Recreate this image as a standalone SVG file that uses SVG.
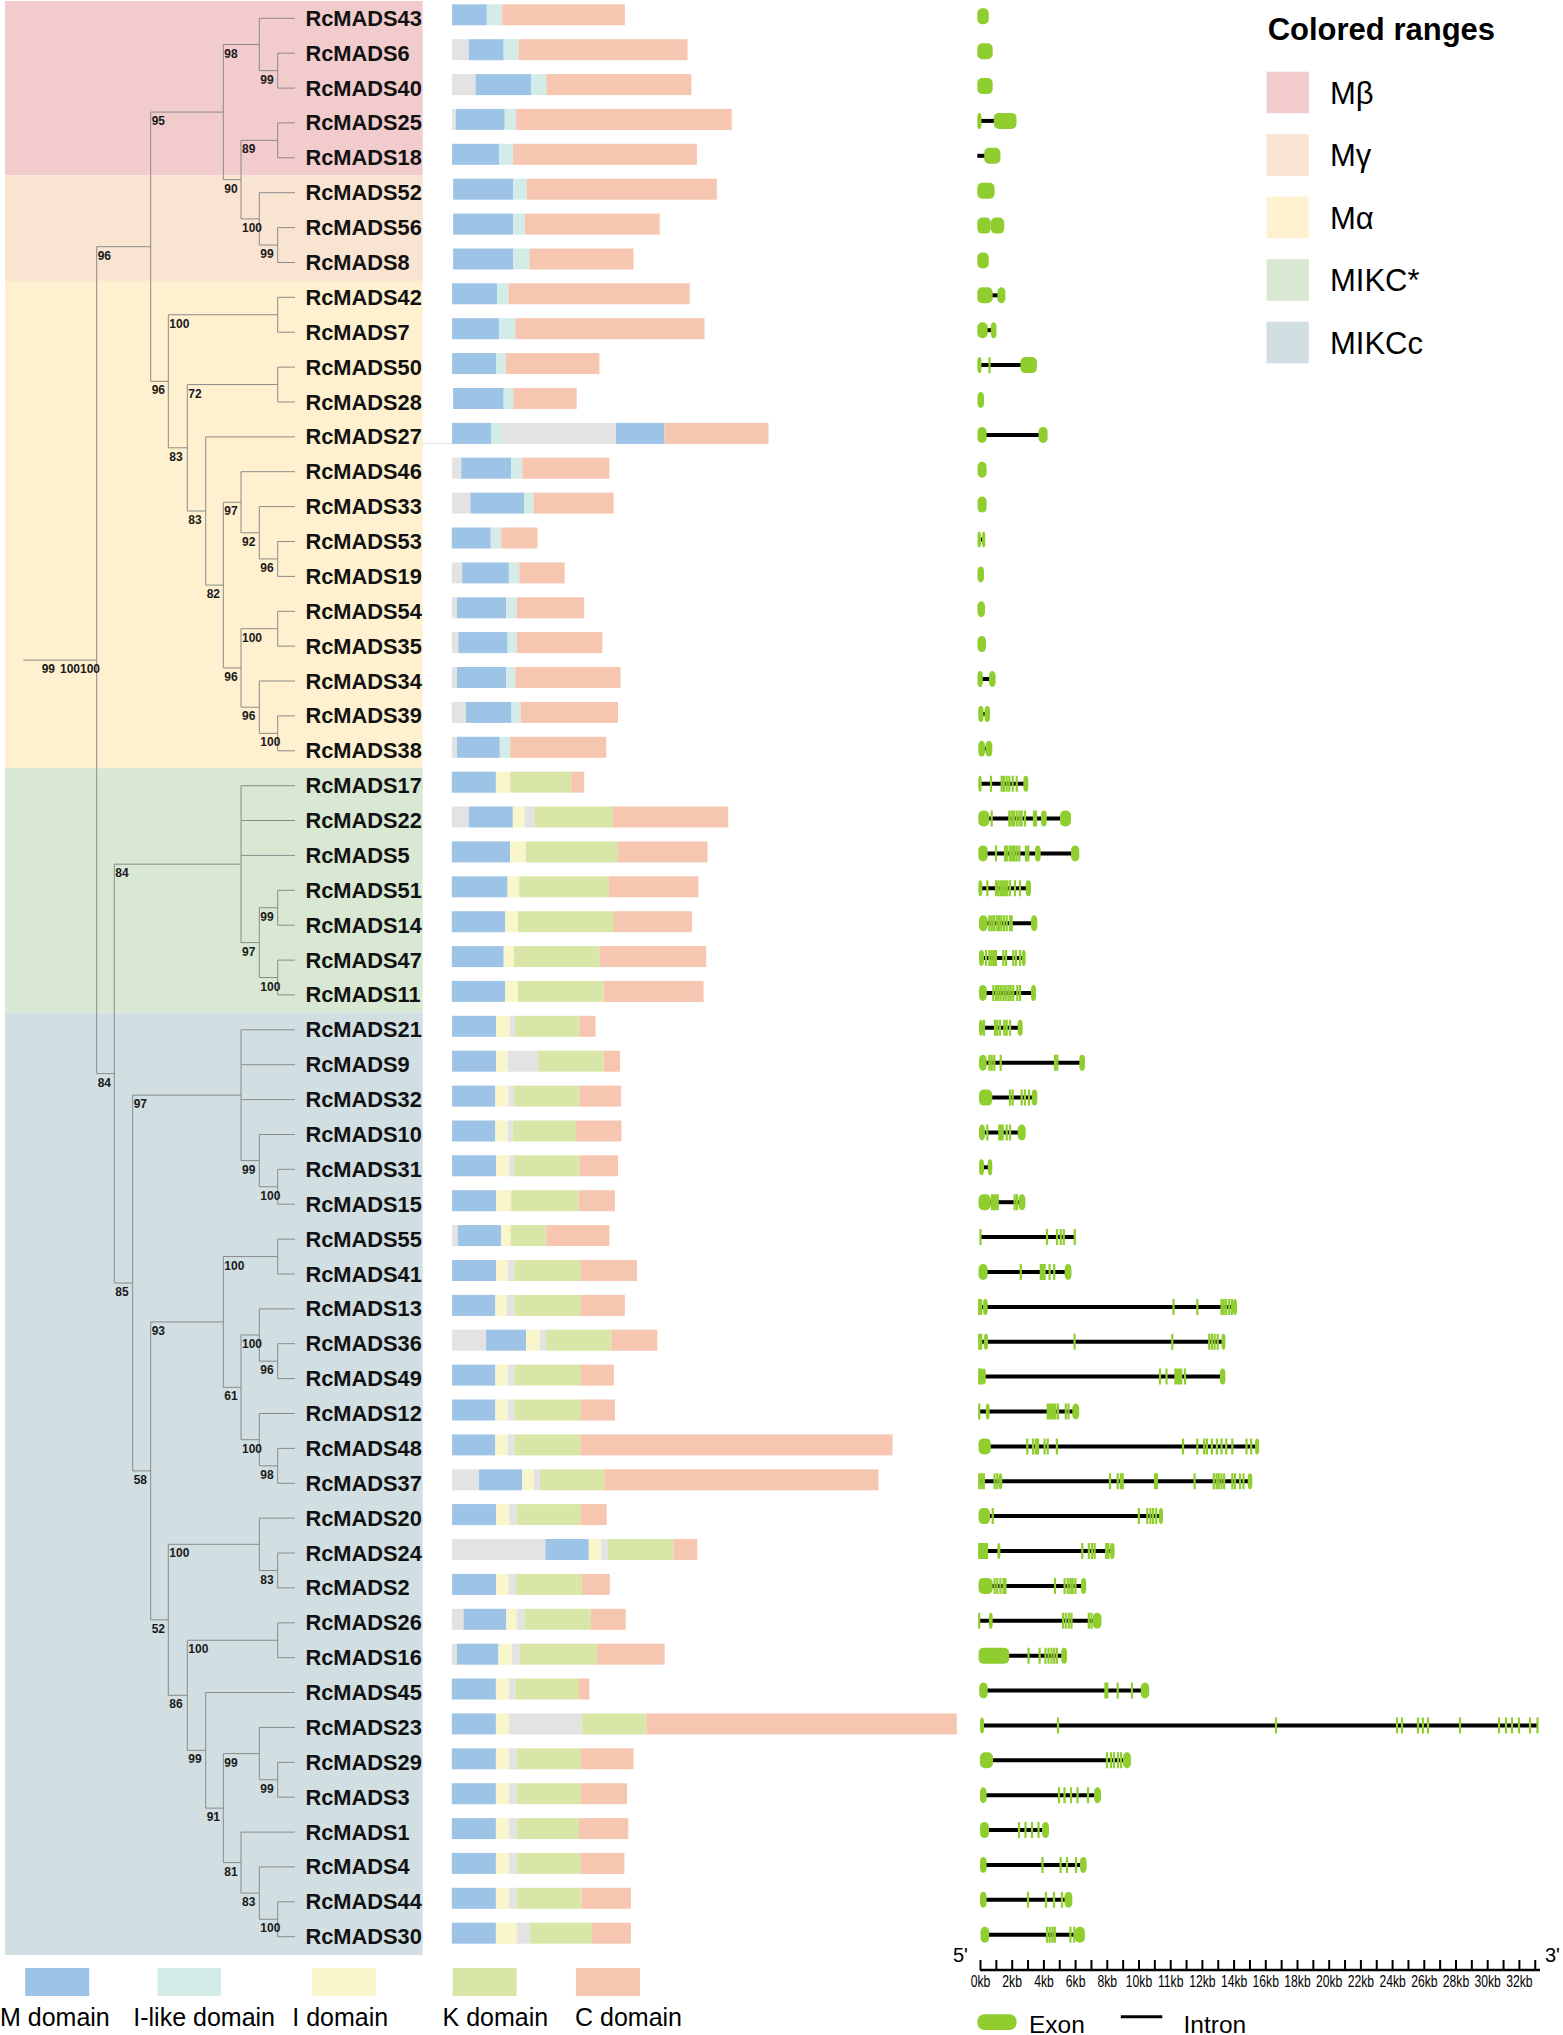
<svg xmlns="http://www.w3.org/2000/svg" width="1563" height="2035" viewBox="0 0 1563 2035">
<style>
.t{font:bold 21.8px "Liberation Sans",Arial,sans-serif;fill:#111}
.b{font:bold 12px "Liberation Sans",Arial,sans-serif;fill:#1a1a1a}
.lg{font:31px "Liberation Sans",Arial,sans-serif;fill:#000}
.lt{font:bold 31px "Liberation Sans",Arial,sans-serif;fill:#000}
.dl{font:25px "Liberation Sans",Arial,sans-serif;fill:#000}
.ax{font:16px "Liberation Sans",Arial,sans-serif;fill:#000;text-anchor:middle}
.br{fill:none;stroke:#8a8a8a;stroke-width:1}
.g{fill:#e3e3e3}.m{fill:#9dc3e6}.l{fill:#d3ece8}.i{fill:#faf6cb}.k{fill:#d8e7a7}.c{fill:#f7c6b1}
.in{stroke:#000;stroke-width:4;fill:none}
.ex{fill:#90ce30}
.tx{stroke:#90ce30;stroke-width:2.2;fill:none}
</style>
<g id="ranges">
<rect x="5" y="1" width="417.7" height="174.3" fill="#f2cbcd"/>
<rect x="5" y="175.3" width="417.7" height="105.6" fill="#f9e3d1"/>
<rect x="5" y="280.9" width="417.7" height="487.3" fill="#fff1cf"/>
<rect x="5" y="768.2" width="417.7" height="244.2" fill="#d9e8d3"/>
<rect x="5" y="1012.4" width="417.7" height="942.6" fill="#d1dfe2"/>
</g>
<g id="connectors">
<path class="br" d="M23.3 660.15H96.7M96.7 246.7V1073.6
M96.7 246.7H150.7M150.7 112.05V381.3
M150.7 112.05H223.3M223.3 44.5V179.6
M223.3 44.5H259.3M259.3 18.3V70.65M259.3 18.3H295
M259.3 70.65H277.7M277.7 53.2V88.1M277.7 53.2H295M277.7 88.1H295
M223.3 179.6H241M241 140.35V218.9
M241 140.35H277.7M277.7 122.9V157.8M277.7 122.9H295M277.7 157.8H295
M241 218.9H259.3M259.3 192.7V245.05M259.3 192.7H295
M259.3 245.05H277.7M277.7 227.6V262.5M277.7 227.6H295M277.7 262.5H295
M150.7 381.3H168.3M168.3 314.75V447.8
M168.3 314.75H277.7M277.7 297.3V332.2M277.7 297.3H295M277.7 332.2H295
M168.3 447.8H187.3M187.3 384.55V511
M187.3 384.55H277.7M277.7 367.1V402M277.7 367.1H295M277.7 402H295
M187.3 511H205.7M205.7 436.9V585.1M205.7 436.9H295
M205.7 585.1H223.3M223.3 502.25V667.95
M223.3 502.25H241M241 471.7V532.8M241 471.7H295
M241 532.8H259.3M259.3 506.6V558.95M259.3 506.6H295
M259.3 558.95H277.7M277.7 541.5V576.4M277.7 541.5H295M277.7 576.4H295
M223.3 667.95H241M241 628.7V707.2
M241 628.7H277.7M277.7 611.3V646.1M277.7 611.3H295M277.7 646.1H295
M241 707.2H259.3M259.3 681V733.35M259.3 681H295
M259.3 733.35H277.7M277.7 715.9V750.8M277.7 715.9H295M277.7 750.8H295
M96.7 1073.6H114.3M114.3 864.15V1283.05
M114.3 864.15H241M241 785.7V942.6M241 785.7H295M241 820.5H295M241 855.4H295
M241 942.6H259.3M259.3 907.75V977.5
M259.3 907.75H277.7M277.7 890.3V925.2M277.7 890.3H295M277.7 925.2H295
M259.3 977.5H277.7M277.7 960.1V994.9M277.7 960.1H295M277.7 994.9H295
M114.3 1283.05H132.7M132.7 1095.2V1470.9
M132.7 1095.2H241M241 1029.8V1160.6M241 1029.8H295M241 1064.7H295M241 1099.6H295
M241 1160.6H259.3M259.3 1134.5V1186.75M259.3 1134.5H295
M259.3 1186.75H277.7M277.7 1169.3V1204.2M277.7 1169.3H295M277.7 1204.2H295
M132.7 1470.9H150.7M150.7 1321.95V1619.8
M150.7 1321.95H223.3M223.3 1256.55V1387.35
M223.3 1256.55H277.7M277.7 1239.1V1274M277.7 1239.1H295M277.7 1274H295
M223.3 1387.35H241M241 1335V1439.7
M241 1335H259.3M259.3 1308.9V1361.15M259.3 1308.9H295
M259.3 1361.15H277.7M277.7 1343.7V1378.6M277.7 1343.7H295M277.7 1378.6H295
M241 1439.7H259.3M259.3 1413.5V1465.85M259.3 1413.5H295
M259.3 1465.85H277.7M277.7 1448.4V1483.3M277.7 1448.4H295M277.7 1483.3H295
M150.7 1619.8H168.3M168.3 1544.3V1695.3
M168.3 1544.3H259.3M259.3 1518.1V1570.45M259.3 1518.1H295
M259.3 1570.45H277.7M277.7 1553V1587.9M277.7 1553H295M277.7 1587.9H295
M168.3 1695.3H187.3M187.3 1640.25V1750.3
M187.3 1640.25H277.7M277.7 1622.8V1657.7M277.7 1622.8H295M277.7 1657.7H295
M187.3 1750.3H205.7M205.7 1692.5V1808.1M205.7 1692.5H295
M205.7 1808.1H223.3M223.3 1753.6V1862.6
M223.3 1753.6H259.3M259.3 1727.4V1779.75M259.3 1727.4H295
M259.3 1779.75H277.7M277.7 1762.3V1797.2M277.7 1762.3H295M277.7 1797.2H295
M223.3 1862.6H241M241 1832.1V1893.1M241 1832.1H295
M241 1893.1H259.3M259.3 1866.9V1919.25M259.3 1866.9H295
M259.3 1919.25H277.7M277.7 1901.8V1936.7M277.7 1901.8H295M277.7 1936.7H295"/>
<path d="M422 443.5H452" stroke="#e4e4e4" stroke-width="1"/>
</g>
<g id="bootstrap">
<text class="b" x="224.3" y="57.5">98</text>
<text class="b" x="260.3" y="83.7">99</text>
<text class="b" x="151.7" y="125.1">95</text>
<text class="b" x="224.3" y="192.6">90</text>
<text class="b" x="242" y="153.4">89</text>
<text class="b" x="242" y="231.9">100</text>
<text class="b" x="260.3" y="258.1">99</text>
<text class="b" x="97.7" y="259.7">96</text>
<text class="b" x="151.7" y="394.3">96</text>
<text class="b" x="169.3" y="327.8">100</text>
<text class="b" x="169.3" y="460.8">83</text>
<text class="b" x="188.3" y="397.6">72</text>
<text class="b" x="188.3" y="524">83</text>
<text class="b" x="206.7" y="598.1">82</text>
<text class="b" x="224.3" y="515.3">97</text>
<text class="b" x="242" y="545.8">92</text>
<text class="b" x="260.3" y="572">96</text>
<text class="b" x="224.3" y="681">96</text>
<text class="b" x="242" y="641.7">100</text>
<text class="b" x="242" y="720.2">96</text>
<text class="b" x="260.3" y="746.4">100</text>
<text class="b" x="41.7" y="673">99</text>
<text class="b" x="60" y="673">100</text>
<text class="b" x="80" y="673">100</text>
<text class="b" x="97.7" y="1086.6">84</text>
<text class="b" x="115.3" y="877.2">84</text>
<text class="b" x="242" y="955.6">97</text>
<text class="b" x="260.3" y="920.8">99</text>
<text class="b" x="260.3" y="990.5">100</text>
<text class="b" x="115.3" y="1296.1">85</text>
<text class="b" x="133.7" y="1108.2">97</text>
<text class="b" x="242" y="1173.6">99</text>
<text class="b" x="260.3" y="1199.8">100</text>
<text class="b" x="133.7" y="1483.9">58</text>
<text class="b" x="151.7" y="1335">93</text>
<text class="b" x="224.3" y="1269.6">100</text>
<text class="b" x="224.3" y="1400.4">61</text>
<text class="b" x="242" y="1348">100</text>
<text class="b" x="260.3" y="1374.2">96</text>
<text class="b" x="242" y="1452.7">100</text>
<text class="b" x="260.3" y="1478.9">98</text>
<text class="b" x="151.7" y="1632.8">52</text>
<text class="b" x="169.3" y="1557.3">100</text>
<text class="b" x="260.3" y="1583.5">83</text>
<text class="b" x="169.3" y="1708.3">86</text>
<text class="b" x="188.3" y="1653.3">100</text>
<text class="b" x="188.3" y="1763.3">99</text>
<text class="b" x="206.7" y="1821.1">91</text>
<text class="b" x="224.3" y="1766.6">99</text>
<text class="b" x="260.3" y="1792.8">99</text>
<text class="b" x="224.3" y="1875.6">81</text>
<text class="b" x="242" y="1906.1">83</text>
<text class="b" x="260.3" y="1932.3">100</text>
</g>
<g id="RcMADS43" transform="translate(0,18.3)"><text class="t" x="305.5" y="7.5">RcMADS43</text>
<rect class="m" x="452.1" y="-14" width="34.7" height="21"/><rect class="l" x="486.8" y="-14" width="15.5" height="21"/><rect class="c" x="502.3" y="-14" width="122.6" height="21"/>
<rect class="ex" x="977.3" y="-10" width="11.5" height="16" rx="5"/></g>
<g id="RcMADS6" transform="translate(0,53.2)"><text class="t" x="305.5" y="7.5">RcMADS6</text>
<rect class="g" x="452.1" y="-14" width="16.8" height="21"/><rect class="m" x="468.9" y="-14" width="34.8" height="21"/><rect class="l" x="503.7" y="-14" width="14.8" height="21"/><rect class="c" x="518.5" y="-14" width="169.1" height="21"/>
<rect class="ex" x="977.3" y="-10" width="15.4" height="16" rx="5"/></g>
<g id="RcMADS40" transform="translate(0,88.1)"><text class="t" x="305.5" y="7.5">RcMADS40</text>
<rect class="g" x="452.1" y="-14" width="23.4" height="21"/><rect class="m" x="475.5" y="-14" width="55.8" height="21"/><rect class="l" x="531.3" y="-14" width="15.1" height="21"/><rect class="c" x="546.4" y="-14" width="145" height="21"/>
<rect class="ex" x="977.3" y="-10" width="15.4" height="16" rx="5"/></g>
<g id="RcMADS25" transform="translate(0,122.9)"><text class="t" x="305.5" y="7.5">RcMADS25</text>
<rect class="g" x="452.1" y="-14" width="3.7" height="21"/><rect class="m" x="455.8" y="-14" width="48.9" height="21"/><rect class="l" x="504.7" y="-14" width="11.4" height="21"/><rect class="c" x="516.1" y="-14" width="215.6" height="21"/>
<path class="in" d="M980-2H995"/><rect class="ex" x="977.3" y="-10" width="4.2" height="16" rx="5"/><rect class="ex" x="993.8" y="-10" width="22.7" height="16" rx="5"/></g>
<g id="RcMADS18" transform="translate(0,157.8)"><text class="t" x="305.5" y="7.5">RcMADS18</text>
<rect class="m" x="452.1" y="-14" width="47.1" height="21"/><rect class="l" x="499.2" y="-14" width="13.8" height="21"/><rect class="c" x="513" y="-14" width="183.9" height="21"/>
<path class="in" d="M977.3-2H986"/><rect class="ex" x="984.2" y="-10" width="16.2" height="16" rx="5"/></g>
<g id="RcMADS52" transform="translate(0,192.7)"><text class="t" x="305.5" y="7.5">RcMADS52</text>
<rect class="m" x="453.1" y="-14" width="60.2" height="21"/><rect class="l" x="513.3" y="-14" width="13.5" height="21"/><rect class="c" x="526.8" y="-14" width="190.1" height="21"/>
<rect class="ex" x="977.3" y="-10" width="17.3" height="16" rx="5"/></g>
<g id="RcMADS56" transform="translate(0,227.6)"><text class="t" x="305.5" y="7.5">RcMADS56</text>
<rect class="m" x="453.1" y="-14" width="60.2" height="21"/><rect class="l" x="513.3" y="-14" width="11.7" height="21"/><rect class="c" x="525" y="-14" width="134.7" height="21"/>
<rect class="ex" x="977.3" y="-10" width="13.5" height="16" rx="5"/><rect class="ex" x="990.8" y="-10" width="13.4" height="16" rx="5"/></g>
<g id="RcMADS8" transform="translate(0,262.5)"><text class="t" x="305.5" y="7.5">RcMADS8</text>
<rect class="m" x="453.1" y="-14" width="60.2" height="21"/><rect class="l" x="513.3" y="-14" width="16.2" height="21"/><rect class="c" x="529.5" y="-14" width="104" height="21"/>
<rect class="ex" x="977.3" y="-10" width="11.5" height="16" rx="5"/></g>
<g id="RcMADS42" transform="translate(0,297.3)"><text class="t" x="305.5" y="7.5">RcMADS42</text>
<rect class="m" x="452.1" y="-14" width="45.1" height="21"/><rect class="l" x="497.2" y="-14" width="11.3" height="21"/><rect class="c" x="508.5" y="-14" width="181.2" height="21"/>
<path class="in" d="M990-2H999"/><rect class="ex" x="977.3" y="-10" width="15.4" height="16" rx="5"/><rect class="ex" x="997.3" y="-10" width="8.1" height="16" rx="5"/></g>
<g id="RcMADS7" transform="translate(0,332.2)"><text class="t" x="305.5" y="7.5">RcMADS7</text>
<rect class="m" x="452.1" y="-14" width="47.1" height="21"/><rect class="l" x="499.2" y="-14" width="16.2" height="21"/><rect class="c" x="515.4" y="-14" width="189.1" height="21"/>
<path class="in" d="M986-2H992"/><rect class="ex" x="977.3" y="-10" width="10.4" height="16" rx="5"/><rect class="ex" x="990.8" y="-10" width="5.7" height="16" rx="5"/></g>
<g id="RcMADS50" transform="translate(0,367.1)"><text class="t" x="305.5" y="7.5">RcMADS50</text>
<rect class="m" x="452.1" y="-14" width="44" height="21"/><rect class="l" x="496.1" y="-14" width="9.7" height="21"/><rect class="c" x="505.8" y="-14" width="93.6" height="21"/>
<path class="in" d="M980-2H1022"/><path class="tx" d="M989.5-10v16"/><rect class="ex" x="977.3" y="-10" width="4.2" height="16" rx="5"/><rect class="ex" x="1020.4" y="-10" width="16.5" height="16" rx="5"/></g>
<g id="RcMADS28" transform="translate(0,402)"><text class="t" x="305.5" y="7.5">RcMADS28</text>
<rect class="m" x="453.1" y="-14" width="50.6" height="21"/><rect class="l" x="503.7" y="-14" width="9.6" height="21"/><rect class="c" x="513.3" y="-14" width="63.4" height="21"/>
<rect class="ex" x="977.5" y="-10" width="6.5" height="16" rx="5"/></g>
<g id="RcMADS27" transform="translate(0,436.9)"><text class="t" x="305.5" y="7.5">RcMADS27</text>
<rect class="m" x="452.1" y="-14" width="38.9" height="21"/><rect class="l" x="491" y="-14" width="10.3" height="21"/><rect class="g" x="501.3" y="-14" width="114.7" height="21"/><rect class="m" x="616" y="-14" width="48.5" height="21"/><rect class="c" x="664.5" y="-14" width="104" height="21"/>
<path class="in" d="M985-2H1040"/><rect class="ex" x="977.5" y="-10" width="9.1" height="16" rx="5"/><rect class="ex" x="1038.5" y="-10" width="9.1" height="16" rx="5"/></g>
<g id="RcMADS46" transform="translate(0,471.7)"><text class="t" x="305.5" y="7.5">RcMADS46</text>
<rect class="g" x="452.1" y="-14" width="9.2" height="21"/><rect class="m" x="461.3" y="-14" width="50" height="21"/><rect class="l" x="511.3" y="-14" width="11" height="21"/><rect class="c" x="522.3" y="-14" width="87.1" height="21"/>
<rect class="ex" x="977.5" y="-10" width="9.1" height="16" rx="5"/></g>
<g id="RcMADS33" transform="translate(0,506.6)"><text class="t" x="305.5" y="7.5">RcMADS33</text>
<rect class="g" x="452.1" y="-14" width="18.2" height="21"/><rect class="m" x="470.3" y="-14" width="53.7" height="21"/><rect class="l" x="524" y="-14" width="9.7" height="21"/><rect class="c" x="533.7" y="-14" width="79.9" height="21"/>
<rect class="ex" x="977.5" y="-10" width="9.1" height="16" rx="5"/></g>
<g id="RcMADS53" transform="translate(0,541.5)"><text class="t" x="305.5" y="7.5">RcMADS53</text>
<rect class="m" x="451.8" y="-14" width="38.9" height="21"/><rect class="l" x="490.7" y="-14" width="10.4" height="21"/><rect class="c" x="501.1" y="-14" width="36.4" height="21"/>
<path class="in" d="M979-2H984"/><rect class="ex" x="977.5" y="-10" width="3.5" height="16" rx="5"/><rect class="ex" x="982" y="-10" width="3.3" height="16" rx="5"/></g>
<g id="RcMADS19" transform="translate(0,576.4)"><text class="t" x="305.5" y="7.5">RcMADS19</text>
<rect class="g" x="451.8" y="-14" width="10.4" height="21"/><rect class="m" x="462.2" y="-14" width="46.7" height="21"/><rect class="l" x="508.9" y="-14" width="10.4" height="21"/><rect class="c" x="519.3" y="-14" width="45.4" height="21"/>
<rect class="ex" x="977.5" y="-10" width="6.5" height="16" rx="5"/></g>
<g id="RcMADS54" transform="translate(0,611.3)"><text class="t" x="305.5" y="7.5">RcMADS54</text>
<rect class="g" x="451.8" y="-14" width="5.2" height="21"/><rect class="m" x="457" y="-14" width="49.3" height="21"/><rect class="l" x="506.3" y="-14" width="10.4" height="21"/><rect class="c" x="516.7" y="-14" width="67.5" height="21"/>
<rect class="ex" x="977.5" y="-10" width="7.5" height="16" rx="5"/></g>
<g id="RcMADS35" transform="translate(0,646.1)"><text class="t" x="305.5" y="7.5">RcMADS35</text>
<rect class="g" x="451.8" y="-14" width="6.5" height="21"/><rect class="m" x="458.3" y="-14" width="49.3" height="21"/><rect class="l" x="507.6" y="-14" width="9.1" height="21"/><rect class="c" x="516.7" y="-14" width="85.7" height="21"/>
<rect class="ex" x="977.5" y="-10" width="8.5" height="16" rx="5"/></g>
<g id="RcMADS34" transform="translate(0,681)"><text class="t" x="305.5" y="7.5">RcMADS34</text>
<rect class="g" x="451.8" y="-14" width="5.2" height="21"/><rect class="m" x="457" y="-14" width="49.3" height="21"/><rect class="l" x="506.3" y="-14" width="9.1" height="21"/><rect class="c" x="515.4" y="-14" width="105.1" height="21"/>
<path class="in" d="M981-2H991"/><rect class="ex" x="977.5" y="-10" width="5.2" height="16" rx="5"/><rect class="ex" x="989" y="-10" width="6.6" height="16" rx="5"/></g>
<g id="RcMADS39" transform="translate(0,715.9)"><text class="t" x="305.5" y="7.5">RcMADS39</text>
<rect class="g" x="451.8" y="-14" width="14.2" height="21"/><rect class="m" x="466" y="-14" width="45.5" height="21"/><rect class="l" x="511.5" y="-14" width="9.1" height="21"/><rect class="c" x="520.6" y="-14" width="97.4" height="21"/>
<path class="in" d="M982-2H986"/><rect class="ex" x="978.3" y="-10" width="5.2" height="16" rx="5"/><rect class="ex" x="984.5" y="-10" width="5.5" height="16" rx="5"/></g>
<g id="RcMADS38" transform="translate(0,750.8)"><text class="t" x="305.5" y="7.5">RcMADS38</text>
<rect class="g" x="451.8" y="-14" width="5.2" height="21"/><rect class="m" x="457" y="-14" width="42.8" height="21"/><rect class="l" x="499.8" y="-14" width="10.4" height="21"/><rect class="c" x="510.2" y="-14" width="96.1" height="21"/>
<path class="in" d="M983-2H987"/><rect class="ex" x="978.3" y="-10" width="6.7" height="16" rx="5"/><rect class="ex" x="985.5" y="-10" width="6.8" height="16" rx="5"/></g>
<g id="RcMADS17" transform="translate(0,785.7)"><text class="t" x="305.5" y="7.5">RcMADS17</text>
<rect class="m" x="451.8" y="-14" width="44.1" height="21"/><rect class="i" x="495.9" y="-14" width="14.3" height="21"/><rect class="k" x="510.2" y="-14" width="61" height="21"/><rect class="c" x="571.2" y="-14" width="13" height="21"/>
<path class="in" d="M980-2H1024"/><path class="tx" d="M991-10v16M1001.7-10v16M1004-10v16M1006.7-10v16M1009.3-10v16M1012.7-10v16M1016.7-10v16"/><rect class="ex" x="978.3" y="-10" width="3.4" height="16" rx="5"/><rect class="ex" x="1023.3" y="-10" width="5" height="16" rx="5"/></g>
<g id="RcMADS22" transform="translate(0,820.5)"><text class="t" x="305.5" y="7.5">RcMADS22</text>
<rect class="g" x="451.8" y="-14" width="16.9" height="21"/><rect class="m" x="468.7" y="-14" width="44.1" height="21"/><rect class="i" x="512.8" y="-14" width="11.7" height="21"/><rect class="g" x="524.5" y="-14" width="10.4" height="21"/><rect class="k" x="534.9" y="-14" width="77.9" height="21"/><rect class="c" x="612.8" y="-14" width="115.5" height="21"/>
<path class="in" d="M985-2H1065"/><path class="tx" d="M991.7-10v16M1009.3-10v16M1011.7-10v16M1014-10v16M1016.7-10v16M1019.3-10v16M1021.7-10v16M1025-10v16M1034-10v16M1036-10v16"/><rect class="ex" x="978.3" y="-10" width="11" height="16" rx="5"/><rect class="ex" x="1041" y="-10" width="5.7" height="16" rx="5"/><rect class="ex" x="1060" y="-10" width="11" height="16" rx="5"/></g>
<g id="RcMADS5" transform="translate(0,855.4)"><text class="t" x="305.5" y="7.5">RcMADS5</text>
<rect class="m" x="451.8" y="-14" width="58.4" height="21"/><rect class="i" x="510.2" y="-14" width="15.6" height="21"/><rect class="k" x="525.8" y="-14" width="92.2" height="21"/><rect class="c" x="618" y="-14" width="89.5" height="21"/>
<path class="in" d="M985-2H1075"/><path class="tx" d="M996-10v16M1005-10v16M1007.3-10v16M1010-10v16M1012.3-10v16M1014.3-10v16M1016.7-10v16M1019.3-10v16M1026-10v16M1028.3-10v16"/><rect class="ex" x="978.3" y="-10" width="9.4" height="16" rx="5"/><rect class="ex" x="1035" y="-10" width="5.7" height="16" rx="5"/><rect class="ex" x="1071" y="-10" width="8.3" height="16" rx="5"/></g>
<g id="RcMADS51" transform="translate(0,890.3)"><text class="t" x="305.5" y="7.5">RcMADS51</text>
<rect class="m" x="451.8" y="-14" width="55.8" height="21"/><rect class="i" x="507.6" y="-14" width="11.7" height="21"/><rect class="k" x="519.3" y="-14" width="89.6" height="21"/><rect class="c" x="608.9" y="-14" width="89.5" height="21"/>
<path class="in" d="M980-2H1028"/><path class="tx" d="M987.3-10v16M996-10v16M998.3-10v16M1000.7-10v16M1002.7-10v16M1005-10v16M1007.3-10v16M1010-10v16M1015-10v16M1020-10v16"/><rect class="ex" x="978.3" y="-10" width="4" height="16" rx="5"/><rect class="ex" x="1025.7" y="-10" width="5.3" height="16" rx="5"/></g>
<g id="RcMADS14" transform="translate(0,925.2)"><text class="t" x="305.5" y="7.5">RcMADS14</text>
<rect class="m" x="451.8" y="-14" width="53.2" height="21"/><rect class="i" x="505" y="-14" width="13" height="21"/><rect class="k" x="518" y="-14" width="96" height="21"/><rect class="c" x="614" y="-14" width="77.9" height="21"/>
<path class="in" d="M985-2H1033"/><path class="tx" d="M989.3-10v16M991.7-10v16M994-10v16M996.7-10v16M999-10v16M1001.3-10v16M1004-10v16M1006.7-10v16M1010-10v16M1011.7-10v16"/><rect class="ex" x="979" y="-10" width="8.7" height="16" rx="5"/><rect class="ex" x="1031" y="-10" width="6.3" height="16" rx="5"/></g>
<g id="RcMADS47" transform="translate(0,960.1)"><text class="t" x="305.5" y="7.5">RcMADS47</text>
<rect class="m" x="451.8" y="-14" width="51.9" height="21"/><rect class="i" x="503.7" y="-14" width="10.4" height="21"/><rect class="k" x="514.1" y="-14" width="85.7" height="21"/><rect class="c" x="599.8" y="-14" width="106.4" height="21"/>
<path class="in" d="M982-2H1023"/><path class="tx" d="M986-10v16M989.3-10v16M991.7-10v16M994-10v16M996-10v16M1003.3-10v16M1006-10v16M1013.3-10v16M1016-10v16M1020-10v16"/><rect class="ex" x="979" y="-10" width="5" height="16" rx="5"/><rect class="ex" x="1021.7" y="-10" width="4" height="16" rx="5"/></g>
<g id="RcMADS11" transform="translate(0,994.9)"><text class="t" x="305.5" y="7.5">RcMADS11</text>
<rect class="m" x="451.8" y="-14" width="53.2" height="21"/><rect class="i" x="505" y="-14" width="13" height="21"/><rect class="k" x="518" y="-14" width="85.7" height="21"/><rect class="c" x="603.7" y="-14" width="99.9" height="21"/>
<path class="in" d="M985-2H1033"/><path class="tx" d="M993.3-10v16M996-10v16M998.3-10v16M1000.7-10v16M1003.3-10v16M1005.7-10v16M1008.3-10v16M1010.7-10v16M1013.3-10v16M1017.3-10v16M1020-10v16"/><rect class="ex" x="979" y="-10" width="7.7" height="16" rx="5"/><rect class="ex" x="1031" y="-10" width="5" height="16" rx="5"/></g>
<g id="RcMADS21" transform="translate(0,1029.8)"><text class="t" x="305.5" y="7.5">RcMADS21</text>
<rect class="m" x="452.1" y="-14" width="44" height="21"/><rect class="i" x="496.1" y="-14" width="13.8" height="21"/><rect class="g" x="509.9" y="-14" width="5.2" height="21"/><rect class="k" x="515.1" y="-14" width="64.7" height="21"/><rect class="c" x="579.8" y="-14" width="15.8" height="21"/>
<path class="in" d="M982-2H1019"/><path class="tx" d="M984-10v16M995-10v16M997.3-10v16M1000-10v16M1004.3-10v16M1006.7-10v16M1010-10v16"/><rect class="ex" x="979" y="-10" width="4" height="16" rx="5"/><rect class="ex" x="1017.7" y="-10" width="5" height="16" rx="5"/></g>
<g id="RcMADS9" transform="translate(0,1064.7)"><text class="t" x="305.5" y="7.5">RcMADS9</text>
<rect class="m" x="452.1" y="-14" width="44" height="21"/><rect class="i" x="496.1" y="-14" width="11.4" height="21"/><rect class="g" x="507.5" y="-14" width="30.6" height="21"/><rect class="k" x="538.1" y="-14" width="65.5" height="21"/><rect class="c" x="603.6" y="-14" width="16.5" height="21"/>
<path class="in" d="M985-2H1081"/><path class="tx" d="M989.3-10v16M991.7-10v16M994.3-10v16M1000.7-10v16M1055-10v16M1057.3-10v16"/><rect class="ex" x="979" y="-10" width="7.7" height="16" rx="5"/><rect class="ex" x="1079.3" y="-10" width="5.7" height="16" rx="5"/></g>
<g id="RcMADS32" transform="translate(0,1099.6)"><text class="t" x="305.5" y="7.5">RcMADS32</text>
<rect class="m" x="452.1" y="-14" width="43.3" height="21"/><rect class="i" x="495.4" y="-14" width="13.1" height="21"/><rect class="g" x="508.5" y="-14" width="5.2" height="21"/><rect class="k" x="513.7" y="-14" width="65.8" height="21"/><rect class="c" x="579.5" y="-14" width="41.6" height="21"/>
<path class="in" d="M990-2H1033"/><path class="tx" d="M1010-10v16M1012.7-10v16M1021.7-10v16M1025-10v16M1029-10v16"/><rect class="ex" x="979" y="-10" width="13.3" height="16" rx="5"/><rect class="ex" x="1031.7" y="-10" width="5.6" height="16" rx="5"/></g>
<g id="RcMADS10" transform="translate(0,1134.5)"><text class="t" x="305.5" y="7.5">RcMADS10</text>
<rect class="m" x="452.1" y="-14" width="43.3" height="21"/><rect class="i" x="495.4" y="-14" width="12.1" height="21"/><rect class="g" x="507.5" y="-14" width="5.2" height="21"/><rect class="k" x="512.7" y="-14" width="63.3" height="21"/><rect class="c" x="576" y="-14" width="45.5" height="21"/>
<path class="in" d="M983-2H1019"/><path class="tx" d="M987.3-10v16M999.3-10v16M1000.7-10v16M1002.7-10v16M1006.7-10v16M1010-10v16"/><rect class="ex" x="979" y="-10" width="6" height="16" rx="5"/><rect class="ex" x="1017.7" y="-10" width="8" height="16" rx="5"/></g>
<g id="RcMADS31" transform="translate(0,1169.3)"><text class="t" x="305.5" y="7.5">RcMADS31</text>
<rect class="m" x="452.1" y="-14" width="44" height="21"/><rect class="i" x="496.1" y="-14" width="13.1" height="21"/><rect class="g" x="509.2" y="-14" width="4.8" height="21"/><rect class="k" x="514" y="-14" width="65.5" height="21"/><rect class="c" x="579.5" y="-14" width="38.5" height="21"/>
<path class="in" d="M983-2H989"/><rect class="ex" x="979" y="-10" width="5" height="16" rx="5"/><rect class="ex" x="987.7" y="-10" width="4.6" height="16" rx="5"/></g>
<g id="RcMADS15" transform="translate(0,1204.2)"><text class="t" x="305.5" y="7.5">RcMADS15</text>
<rect class="m" x="452.1" y="-14" width="44" height="21"/><rect class="i" x="496.1" y="-14" width="15.2" height="21"/><rect class="k" x="511.3" y="-14" width="67.5" height="21"/><rect class="c" x="578.8" y="-14" width="36.1" height="21"/>
<path class="in" d="M988-2H1020"/><path class="tx" d="M992-10v16M994-10v16M995.8-10v16M997.7-10v16M1014.6-10v16M1017-10v16"/><rect class="ex" x="978.5" y="-10" width="12.3" height="16" rx="5"/><rect class="ex" x="1018.5" y="-10" width="6.9" height="16" rx="5"/></g>
<g id="RcMADS55" transform="translate(0,1239.1)"><text class="t" x="305.5" y="7.5">RcMADS55</text>
<rect class="g" x="452.1" y="-14" width="5.8" height="21"/><rect class="m" x="457.9" y="-14" width="43.1" height="21"/><rect class="i" x="501" y="-14" width="9.6" height="21"/><rect class="k" x="510.6" y="-14" width="35.8" height="21"/><rect class="c" x="546.4" y="-14" width="63" height="21"/>
<path class="in" d="M980-2H1075"/><path class="tx" d="M980.5-10v16M1047-10v16M1057-10v16M1060.8-10v16M1063.8-10v16M1074.8-10v16"/></g>
<g id="RcMADS41" transform="translate(0,1274)"><text class="t" x="305.5" y="7.5">RcMADS41</text>
<rect class="m" x="452.1" y="-14" width="44" height="21"/><rect class="i" x="496.1" y="-14" width="11.7" height="21"/><rect class="g" x="507.8" y="-14" width="6.9" height="21"/><rect class="k" x="514.7" y="-14" width="65.5" height="21"/><rect class="c" x="580.2" y="-14" width="56.8" height="21"/>
<path class="in" d="M985-2H1067"/><path class="tx" d="M1020.8-10v16M1040.8-10v16M1042.7-10v16M1044.6-10v16M1049.6-10v16M1054.2-10v16"/><rect class="ex" x="978.5" y="-10" width="9.2" height="16" rx="5"/><rect class="ex" x="1064.6" y="-10" width="6.9" height="16" rx="5"/></g>
<g id="RcMADS13" transform="translate(0,1308.9)"><text class="t" x="305.5" y="7.5">RcMADS13</text>
<rect class="m" x="452.1" y="-14" width="43.3" height="21"/><rect class="i" x="495.4" y="-14" width="11.1" height="21"/><rect class="g" x="506.5" y="-14" width="8.2" height="21"/><rect class="k" x="514.7" y="-14" width="65.5" height="21"/><rect class="c" x="580.2" y="-14" width="44.7" height="21"/>
<path class="in" d="M979-2H1235"/><path class="tx" d="M979.2-10v16M981.2-10v16M1173.5-10v16M1197.3-10v16M1221.5-10v16M1223.8-10v16M1226.2-10v16M1229.2-10v16M1231.9-10v16"/><rect class="ex" x="983" y="-10" width="4.7" height="16" rx="5"/><rect class="ex" x="1233" y="-10" width="4" height="16" rx="5"/></g>
<g id="RcMADS36" transform="translate(0,1343.7)"><text class="t" x="305.5" y="7.5">RcMADS36</text>
<rect class="g" x="452.1" y="-14" width="34" height="21"/><rect class="m" x="486.1" y="-14" width="40" height="21"/><rect class="i" x="526.1" y="-14" width="13.8" height="21"/><rect class="g" x="539.9" y="-14" width="6.2" height="21"/><rect class="k" x="546.1" y="-14" width="65.4" height="21"/><rect class="c" x="611.5" y="-14" width="45.8" height="21"/>
<path class="in" d="M979-2H1223"/><path class="tx" d="M979.2-10v16M981.2-10v16M1074.6-10v16M1172.3-10v16M1209.2-10v16M1211.9-10v16M1214.6-10v16M1217.7-10v16"/><rect class="ex" x="983.8" y="-10" width="4.2" height="16" rx="5"/><rect class="ex" x="1221.5" y="-10" width="3.9" height="16" rx="5"/></g>
<g id="RcMADS49" transform="translate(0,1378.6)"><text class="t" x="305.5" y="7.5">RcMADS49</text>
<rect class="m" x="452.1" y="-14" width="43.3" height="21"/><rect class="i" x="495.4" y="-14" width="12.1" height="21"/><rect class="g" x="507.5" y="-14" width="7.2" height="21"/><rect class="k" x="514.7" y="-14" width="65.5" height="21"/><rect class="c" x="580.2" y="-14" width="33.7" height="21"/>
<path class="in" d="M979-2H1222"/><path class="tx" d="M979.2-10v16M981.2-10v16M1160-10v16M1166.5-10v16M1175.4-10v16M1177.3-10v16M1179.2-10v16M1181.2-10v16M1185-10v16"/><rect class="ex" x="981.9" y="-10" width="3.9" height="16" rx="5"/><rect class="ex" x="1220" y="-10" width="5.4" height="16" rx="5"/></g>
<g id="RcMADS12" transform="translate(0,1413.5)"><text class="t" x="305.5" y="7.5">RcMADS12</text>
<rect class="m" x="452.1" y="-14" width="43.3" height="21"/><rect class="i" x="495.4" y="-14" width="12.1" height="21"/><rect class="g" x="507.5" y="-14" width="7.2" height="21"/><rect class="k" x="514.7" y="-14" width="65.5" height="21"/><rect class="c" x="580.2" y="-14" width="34.7" height="21"/>
<path class="in" d="M979-2H1075"/><path class="tx" d="M979.2-10v16M1047.7-10v16M1049.6-10v16M1051.5-10v16M1053.5-10v16M1055.4-10v16M1058-10v16M1065.8-10v16M1068.5-10v16"/><rect class="ex" x="985.8" y="-10" width="3.8" height="16" rx="5"/><rect class="ex" x="1072.3" y="-10" width="6.9" height="16" rx="5"/></g>
<g id="RcMADS48" transform="translate(0,1448.4)"><text class="t" x="305.5" y="7.5">RcMADS48</text>
<rect class="m" x="452.1" y="-14" width="43.3" height="21"/><rect class="i" x="495.4" y="-14" width="12.1" height="21"/><rect class="g" x="507.5" y="-14" width="7.2" height="21"/><rect class="k" x="514.7" y="-14" width="65.5" height="21"/><rect class="c" x="580.2" y="-14" width="312.3" height="21"/>
<path class="in" d="M988-2H1257"/><path class="tx" d="M1027.3-10v16M1033-10v16M1035.8-10v16M1038-10v16M1044.6-10v16M1047.7-10v16M1056.9-10v16M1183-10v16M1197.3-10v16M1204.2-10v16M1206.9-10v16M1211.9-10v16M1216.9-10v16M1221.5-10v16M1226.2-10v16M1232.3-10v16M1246.5-10v16M1251.2-10v16"/><rect class="ex" x="978.5" y="-10" width="12.3" height="16" rx="5"/><rect class="ex" x="1255" y="-10" width="4.2" height="16" rx="5"/></g>
<g id="RcMADS37" transform="translate(0,1483.3)"><text class="t" x="305.5" y="7.5">RcMADS37</text>
<rect class="g" x="452.1" y="-14" width="26.8" height="21"/><rect class="m" x="478.9" y="-14" width="43.1" height="21"/><rect class="i" x="522" y="-14" width="11.7" height="21"/><rect class="g" x="533.7" y="-14" width="6.2" height="21"/><rect class="k" x="539.9" y="-14" width="64.4" height="21"/><rect class="c" x="604.3" y="-14" width="274.1" height="21"/>
<path class="in" d="M979-2H1250"/><path class="tx" d="M979.2-10v16M981.5-10v16M983.8-10v16M994.6-10v16M997.3-10v16M1110-10v16M1117.7-10v16M1120.8-10v16M1122.7-10v16M1155-10v16M1156.9-10v16M1194.6-10v16M1213.8-10v16M1216.5-10v16M1218.8-10v16M1221.5-10v16M1224.2-10v16M1232.3-10v16M1235-10v16M1240-10v16M1243.5-10v16"/><rect class="ex" x="998.5" y="-10" width="3.8" height="16" rx="5"/><rect class="ex" x="1247.7" y="-10" width="4.6" height="16" rx="5"/></g>
<g id="RcMADS20" transform="translate(0,1518.1)"><text class="t" x="305.5" y="7.5">RcMADS20</text>
<rect class="m" x="452.1" y="-14" width="44" height="21"/><rect class="i" x="496.1" y="-14" width="13.1" height="21"/><rect class="g" x="509.2" y="-14" width="7.2" height="21"/><rect class="k" x="516.4" y="-14" width="64.4" height="21"/><rect class="c" x="580.8" y="-14" width="25.9" height="21"/>
<path class="in" d="M988-2H1161"/><path class="tx" d="M992.7-10v16M1138.8-10v16M1147.3-10v16M1150.4-10v16M1153.1-10v16M1156.2-10v16"/><rect class="ex" x="978.5" y="-10" width="11.5" height="16" rx="5"/><rect class="ex" x="1158.8" y="-10" width="4.2" height="16" rx="5"/></g>
<g id="RcMADS24" transform="translate(0,1553)"><text class="t" x="305.5" y="7.5">RcMADS24</text>
<rect class="g" x="452.1" y="-14" width="93.3" height="21"/><rect class="m" x="545.4" y="-14" width="43.4" height="21"/><rect class="i" x="588.8" y="-14" width="12" height="21"/><rect class="g" x="600.8" y="-14" width="7.2" height="21"/><rect class="k" x="608" y="-14" width="65.5" height="21"/><rect class="c" x="673.5" y="-14" width="23.7" height="21"/>
<path class="in" d="M979-2H1112"/><path class="tx" d="M979.2-10v16M981.2-10v16M983-10v16M985-10v16M987-10v16M1082.3-10v16M1088.8-10v16M1091.9-10v16M1094.6-10v16M1106.2-10v16M1108.5-10v16"/><rect class="ex" x="997.3" y="-10" width="3.1" height="16" rx="5"/><rect class="ex" x="1110" y="-10" width="4.6" height="16" rx="5"/></g>
<g id="RcMADS2" transform="translate(0,1587.9)"><text class="t" x="305.5" y="7.5">RcMADS2</text>
<rect class="m" x="452.1" y="-14" width="44" height="21"/><rect class="i" x="496.1" y="-14" width="12.4" height="21"/><rect class="g" x="508.5" y="-14" width="7.6" height="21"/><rect class="k" x="516.1" y="-14" width="65.8" height="21"/><rect class="c" x="581.9" y="-14" width="27.9" height="21"/>
<path class="in" d="M990-2H1083"/><path class="tx" d="M994.6-10v16M997.3-10v16M1000.4-10v16M1003.5-10v16M1005.4-10v16M1055-10v16M1064.6-10v16M1067.7-10v16M1070.4-10v16M1072.7-10v16M1075.4-10v16"/><rect class="ex" x="978.5" y="-10" width="14.2" height="16" rx="5"/><rect class="ex" x="1081" y="-10" width="5.2" height="16" rx="5"/></g>
<g id="RcMADS26" transform="translate(0,1622.8)"><text class="t" x="305.5" y="7.5">RcMADS26</text>
<rect class="g" x="451.8" y="-14" width="11.7" height="21"/><rect class="m" x="463.5" y="-14" width="42.8" height="21"/><rect class="i" x="506.3" y="-14" width="10.4" height="21"/><rect class="g" x="516.7" y="-14" width="7.8" height="21"/><rect class="k" x="524.5" y="-14" width="66.2" height="21"/><rect class="c" x="590.7" y="-14" width="35" height="21"/>
<path class="in" d="M979-2H1095"/><path class="tx" d="M979.2-10v16M1063-10v16M1065.8-10v16M1068.8-10v16M1071.5-10v16M1088.8-10v16M1091.5-10v16"/><rect class="ex" x="988.8" y="-10" width="3.9" height="16" rx="5"/><rect class="ex" x="1092.7" y="-10" width="8.8" height="16" rx="5"/></g>
<g id="RcMADS16" transform="translate(0,1657.7)"><text class="t" x="305.5" y="7.5">RcMADS16</text>
<rect class="g" x="451.8" y="-14" width="5.2" height="21"/><rect class="m" x="457" y="-14" width="41.5" height="21"/><rect class="i" x="498.5" y="-14" width="13" height="21"/><rect class="g" x="511.5" y="-14" width="7.8" height="21"/><rect class="k" x="519.3" y="-14" width="77.9" height="21"/><rect class="c" x="597.2" y="-14" width="67.5" height="21"/>
<path class="in" d="M1005-2H1063"/><path class="tx" d="M1028.5-10v16M1039.6-10v16M1045.4-10v16M1048.5-10v16M1051.5-10v16M1054.2-10v16M1056.9-10v16"/><rect class="ex" x="978.5" y="-10" width="30.7" height="16" rx="5"/><rect class="ex" x="1061.2" y="-10" width="5.8" height="16" rx="5"/></g>
<g id="RcMADS45" transform="translate(0,1692.5)"><text class="t" x="305.5" y="7.5">RcMADS45</text>
<rect class="m" x="451.8" y="-14" width="44.1" height="21"/><rect class="i" x="495.9" y="-14" width="13" height="21"/><rect class="g" x="508.9" y="-14" width="6.5" height="21"/><rect class="k" x="515.4" y="-14" width="63.6" height="21"/><rect class="c" x="579" y="-14" width="10.4" height="21"/>
<path class="in" d="M985-2H1143"/><path class="tx" d="M1105.4-10v16M1107.3-10v16M1117.7-10v16M1131.9-10v16"/><rect class="ex" x="979.2" y="-10" width="8.5" height="16" rx="5"/><rect class="ex" x="1140.8" y="-10" width="8.4" height="16" rx="5"/></g>
<g id="RcMADS23" transform="translate(0,1727.4)"><text class="t" x="305.5" y="7.5">RcMADS23</text>
<rect class="m" x="451.8" y="-14" width="44.1" height="21"/><rect class="i" x="495.9" y="-14" width="13" height="21"/><rect class="g" x="508.9" y="-14" width="72.7" height="21"/><rect class="k" x="581.6" y="-14" width="64.9" height="21"/><rect class="c" x="646.5" y="-14" width="310.3" height="21"/>
<path class="in" d="M981-2H1538"/><path class="tx" d="M1058-10v16M1276-10v16M1397-10v16M1402-10v16M1418-10v16M1423-10v16M1428-10v16M1460-10v16M1499-10v16M1506-10v16M1512-10v16M1519-10v16M1530-10v16M1537.5-10v16"/><rect class="ex" x="980" y="-10" width="4" height="16" rx="5"/></g>
<g id="RcMADS29" transform="translate(0,1762.3)"><text class="t" x="305.5" y="7.5">RcMADS29</text>
<rect class="m" x="451.8" y="-14" width="44.1" height="21"/><rect class="i" x="495.9" y="-14" width="13" height="21"/><rect class="g" x="508.9" y="-14" width="7.8" height="21"/><rect class="k" x="516.7" y="-14" width="63.6" height="21"/><rect class="c" x="580.3" y="-14" width="53.2" height="21"/>
<path class="in" d="M990-2H1126"/><path class="tx" d="M1107-10v16M1111-10v16M1114-10v16M1118-10v16M1121-10v16"/><rect class="ex" x="980" y="-10" width="13" height="16" rx="5"/><rect class="ex" x="1123" y="-10" width="8" height="16" rx="5"/></g>
<g id="RcMADS3" transform="translate(0,1797.2)"><text class="t" x="305.5" y="7.5">RcMADS3</text>
<rect class="m" x="451.8" y="-14" width="44.1" height="21"/><rect class="i" x="495.9" y="-14" width="13" height="21"/><rect class="g" x="508.9" y="-14" width="7.8" height="21"/><rect class="k" x="516.7" y="-14" width="63.6" height="21"/><rect class="c" x="580.3" y="-14" width="46.7" height="21"/>
<path class="in" d="M985-2H1096"/><path class="tx" d="M1059-10v16M1064.5-10v16M1071-10v16M1077.5-10v16M1088-10v16"/><rect class="ex" x="980" y="-10" width="6.6" height="16" rx="5"/><rect class="ex" x="1094" y="-10" width="7" height="16" rx="5"/></g>
<g id="RcMADS1" transform="translate(0,1832.1)"><text class="t" x="305.5" y="7.5">RcMADS1</text>
<rect class="m" x="451.8" y="-14" width="44.1" height="21"/><rect class="i" x="495.9" y="-14" width="13" height="21"/><rect class="g" x="508.9" y="-14" width="7.8" height="21"/><rect class="k" x="516.7" y="-14" width="62.3" height="21"/><rect class="c" x="579" y="-14" width="49.3" height="21"/>
<path class="in" d="M987-2H1044"/><path class="tx" d="M1019-10v16M1025.5-10v16M1032-10v16M1038.5-10v16"/><rect class="ex" x="980" y="-10" width="9" height="16" rx="5"/><rect class="ex" x="1042" y="-10" width="7" height="16" rx="5"/></g>
<g id="RcMADS4" transform="translate(0,1866.9)"><text class="t" x="305.5" y="7.5">RcMADS4</text>
<rect class="m" x="451.8" y="-14" width="44.1" height="21"/><rect class="i" x="495.9" y="-14" width="13" height="21"/><rect class="g" x="508.9" y="-14" width="7.8" height="21"/><rect class="k" x="516.7" y="-14" width="63.6" height="21"/><rect class="c" x="580.3" y="-14" width="44.1" height="21"/>
<path class="in" d="M985-2H1082"/><path class="tx" d="M1042.5-10v16M1060.6-10v16M1067-10v16M1076-10v16"/><rect class="ex" x="980" y="-10" width="6.6" height="16" rx="5"/><rect class="ex" x="1080" y="-10" width="6.6" height="16" rx="5"/></g>
<g id="RcMADS44" transform="translate(0,1901.8)"><text class="t" x="305.5" y="7.5">RcMADS44</text>
<rect class="m" x="451.8" y="-14" width="44.1" height="21"/><rect class="i" x="495.9" y="-14" width="13" height="21"/><rect class="g" x="508.9" y="-14" width="7.8" height="21"/><rect class="k" x="516.7" y="-14" width="64.9" height="21"/><rect class="c" x="581.6" y="-14" width="49.3" height="21"/>
<path class="in" d="M985-2H1067"/><path class="tx" d="M1028-10v16M1046-10v16M1054-10v16M1062-10v16"/><rect class="ex" x="980" y="-10" width="6.6" height="16" rx="5"/><rect class="ex" x="1064.5" y="-10" width="7.8" height="16" rx="5"/></g>
<g id="RcMADS30" transform="translate(0,1936.7)"><text class="t" x="305.5" y="7.5">RcMADS30</text>
<rect class="m" x="451.8" y="-14" width="44.1" height="21"/><rect class="i" x="495.9" y="-14" width="20.8" height="21"/><rect class="g" x="516.7" y="-14" width="13" height="21"/><rect class="k" x="529.7" y="-14" width="62.3" height="21"/><rect class="c" x="592" y="-14" width="38.9" height="21"/>
<path class="in" d="M987-2H1077"/><path class="tx" d="M1047-10v16M1049.7-10v16M1052.4-10v16M1054.8-10v16M1070.4-10v16M1074.3-10v16"/><rect class="ex" x="980.5" y="-10" width="8.6" height="16" rx="5"/><rect class="ex" x="1075" y="-10" width="9.9" height="16" rx="5"/></g>
<g id="legend-ranges">
<text class="lt" x="1267.7" y="39.5">Colored ranges</text>
<rect x="1266.5" y="71.7" width="42.3" height="41.6" fill="#f2cbcd"/>
<rect x="1266.5" y="134.2" width="42.3" height="41.6" fill="#f9e3d1"/>
<rect x="1266.5" y="196.7" width="42.3" height="41.6" fill="#fff1cf"/>
<rect x="1266.5" y="259.2" width="42.3" height="41.6" fill="#d9e8d3"/>
<rect x="1266.5" y="321.7" width="42.3" height="41.6" fill="#d1dfe2"/>
<text class="lg" x="1330" y="103.5">Mβ</text>
<text class="lg" x="1330" y="166">Mγ</text>
<text class="lg" x="1330" y="228.5">Mα</text>
<text class="lg" x="1330" y="291">MIKC*</text>
<text class="lg" x="1330" y="353.5">MIKCc</text>
</g>
<g id="legend-domains">
<rect class="m" x="25.2" y="1968" width="64" height="28"/>
<rect class="l" x="157.5" y="1968" width="63.5" height="28"/>
<rect class="i" x="312" y="1968" width="64" height="28"/>
<rect class="k" x="452.7" y="1968" width="64" height="28"/>
<rect class="c" x="575.9" y="1968" width="64" height="28"/>
<text class="dl" x="0" y="2026">M domain</text>
<text class="dl" x="133.3" y="2026">I-like domain</text>
<text class="dl" x="292.3" y="2026">I domain</text>
<text class="dl" x="442.6" y="2026">K domain</text>
<text class="dl" x="575" y="2026">C domain</text>
</g>
<g id="scale">
<path d="M980 1970H1540" stroke="#000" stroke-width="2.5"/>
<path d="M980.5 1960V1970M996.35 1960V1970M1012.2 1960V1970M1028.05 1960V1970M1043.9 1960V1970M1059.75 1960V1970M1075.6 1960V1970M1091.45 1960V1970M1107.3 1960V1970M1123.15 1960V1970M1139 1960V1970M1154.85 1960V1970M1170.7 1960V1970M1186.55 1960V1970M1202.4 1960V1970M1218.25 1960V1970M1234.1 1960V1970M1249.95 1960V1970M1265.8 1960V1970M1281.65 1960V1970M1297.5 1960V1970M1313.35 1960V1970M1329.2 1960V1970M1345.05 1960V1970M1360.9 1960V1970M1376.75 1960V1970M1392.6 1960V1970M1408.45 1960V1970M1424.3 1960V1970M1440.15 1960V1970M1456 1960V1970M1471.85 1960V1970M1487.7 1960V1970M1503.55 1960V1970M1519.4 1960V1970M1535.25 1960V1970" stroke="#000" stroke-width="2"/>
<text x="953" y="1962" font-family="Liberation Sans, Arial, sans-serif" font-size="20">5'</text>
<text x="1545" y="1962" font-family="Liberation Sans, Arial, sans-serif" font-size="20">3'</text>
<g transform="scale(0.76,1)">
<text class="ax" x="1290.1" y="1987">0kb</text>
<text class="ax" x="1331.8" y="1987">2kb</text>
<text class="ax" x="1373.6" y="1987">4kb</text>
<text class="ax" x="1415.3" y="1987">6kb</text>
<text class="ax" x="1457" y="1987">8kb</text>
<text class="ax" x="1498.7" y="1987">10kb</text>
<text class="ax" x="1540.4" y="1987">11kb</text>
<text class="ax" x="1582.1" y="1987">12kb</text>
<text class="ax" x="1623.8" y="1987">14kb</text>
<text class="ax" x="1665.5" y="1987">16kb</text>
<text class="ax" x="1707.2" y="1987">18kb</text>
<text class="ax" x="1748.9" y="1987">20kb</text>
<text class="ax" x="1790.7" y="1987">22kb</text>
<text class="ax" x="1832.4" y="1987">24kb</text>
<text class="ax" x="1874.1" y="1987">26kb</text>
<text class="ax" x="1915.8" y="1987">28kb</text>
<text class="ax" x="1957.5" y="1987">30kb</text>
<text class="ax" x="1999.2" y="1987">32kb</text>
</g>
</g>
<g id="legend-gene">
<rect class="ex" x="977.4" y="2014.3" width="39.1" height="15.7" rx="7"/>
<text x="1029" y="2033" font-family="Liberation Sans, Arial, sans-serif" font-size="24.5">Exon</text>
<path d="M1120.8 2016.7H1162.3" stroke="#000" stroke-width="3"/>
<text x="1183.5" y="2033" font-family="Liberation Sans, Arial, sans-serif" font-size="24.5">Intron</text>
</g>
</svg>
